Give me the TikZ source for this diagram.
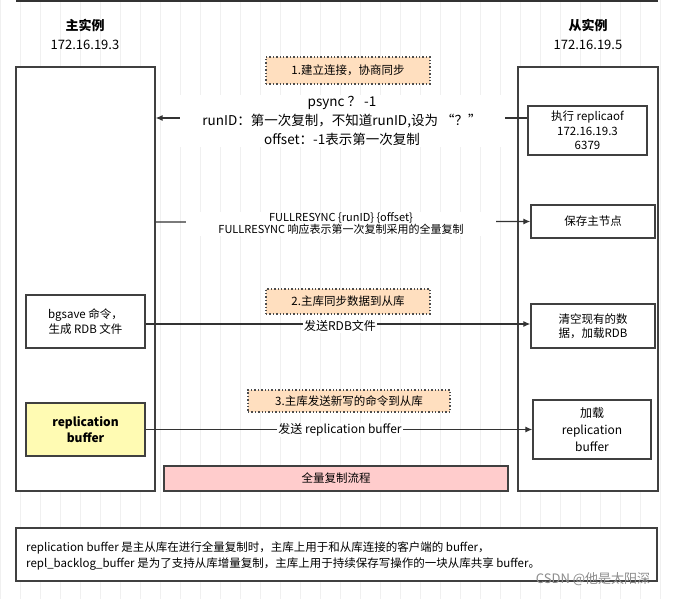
\documentclass[tikz,border=0pt]{standalone}
\usepackage{fontspec}
\setmainfont{Noto Sans CJK SC}
\begin{document}
\begin{tikzpicture}[x=1pt,y=-1pt,
 box/.style={draw=black!75,line width=1.3pt,fill=white,inner sep=0pt,align=center,font=\fontsize{11.5}{14.5}\selectfont},
 lbl/.style={draw=black!70,dotted,line width=1.4pt,fill=orange!25!white,inner sep=0pt,font=\fontsize{11.5}{13}\selectfont},
 arr/.style={draw=black!80,line width=1.2pt,-{Latex[length=7pt,width=6pt]}},
 txt/.style={fill=white,inner sep=1pt,align=center,font=\fontsize{11}{12}\selectfont}]
\usetikzlibrary{arrows.meta}
\useasboundingbox (0,0) rectangle (680,599);
\fill[white] (0,0) rectangle (680,599);
\draw[black!6,line width=0.5pt] (0,0) grid[step=20] (680,599);
\draw[black!80,line width=2pt] (16,1) -- (658,1);
\node[font=\bfseries\fontsize{13}{15}\selectfont] (mt) at (85,25) {主实例};
\node[font=\fontsize{13}{15}\selectfont] (mi) at (85,45) {172.16.19.3};
\node[font=\bfseries\fontsize{13}{15}\selectfont] (st) at (588,25) {从实例};
\node[font=\fontsize{13}{15}\selectfont] (si) at (588,45) {172.16.19.5};
\node[box,minimum width=139,minimum height=424] (L) at (85.5,279) {};
\node[box,minimum width=140,minimum height=424] (R) at (588,279) {};
\node[lbl,minimum width=164,minimum height=27] (l1) at (348,70.5) {1.建立连接，协商同步};
\node[box,minimum width=119,minimum height=49] (rep) at (587.5,130.5) {执行 replicaof\\172.16.19.3\\6379};
\node[box,minimum width=124,minimum height=33] (save) at (593,221.5) {保存主节点};
\node[box,minimum width=119,minimum height=53] (bg) at (85.5,321.5) {bgsave 命令，\\生成 RDB 文件};
\node[lbl,minimum width=164,minimum height=25] (l2) at (348,301.5) {2.主库同步数据到从库};
\node[box,minimum width=124,minimum height=44] (clr) at (593,326) {清空现有的数\\据，加载RDB};
\node[lbl,minimum width=202,minimum height=22] (l3) at (349,401) {3.主库发送新写的命令到从库};
\node[box,fill=yellow!30!white,minimum width=119,minimum height=53,font=\bfseries\fontsize{12}{16}\selectfont] (rb) at (85.5,429.5) {replication\\buffer};
\node[box,minimum width=118,minimum height=59,font=\fontsize{12}{17}\selectfont] (ld) at (592,429.5) {加载\\replication\\buffer};
\node[box,fill=red!20!white,minimum width=344,minimum height=25] (pk) at (336,478.5) {全量复制流程};
\draw[arr] (rep.west |- 0,118) -- (L.east |- 0,118);
\node[txt,font=\fontsize{13.5}{13}\selectfont,minimum width=325] (t1) at (342,121) {psync ？ -1\\[4pt]runID：第一次复制，不知道runID,设为 “？”\\[4pt]offset：-1表示第一次复制};
\draw[arr] (L.east |- 0,222) -- (save.west);
\node[txt,minimum width=310] (t2) at (341,224) {FULLRESYNC \{runID\} \{offset\}\\FULLRESYNC 响应表示第一次复制采用的全量复制};
\draw[arr] (bg.east |- 0,324) -- (clr.west |- 0,324);
\node[txt,font=\fontsize{12}{12}\selectfont] (t3) at (340,326) {发送RDB文件};
\draw[arr] (rb.east) -- (ld.west |- rb.east);
\node[txt,font=\fontsize{12}{12}\selectfont] (t4) at (340,430) {发送 replication buffer};
\node[box,minimum width=641,minimum height=53] (bt) at (336.5,554.5) {};
\node[anchor=west,align=left,font=\fontsize{11.5}{16}\selectfont,inner sep=0pt] (btt) at (26,556) {replication buffer 是主从库在进行全量复制时，主库上用于和从库连接的客户端的 buffer，\\repl\_backlog\_buffer 是为了支持从库增量复制，主库上用于持续保存写操作的一块从库共享 buffer。};
\node[text=black!45,font=\fontsize{13}{13}\selectfont] (wm) at (593,579) {CSDN @他是太阳深};
\end{tikzpicture}
\end{document}
